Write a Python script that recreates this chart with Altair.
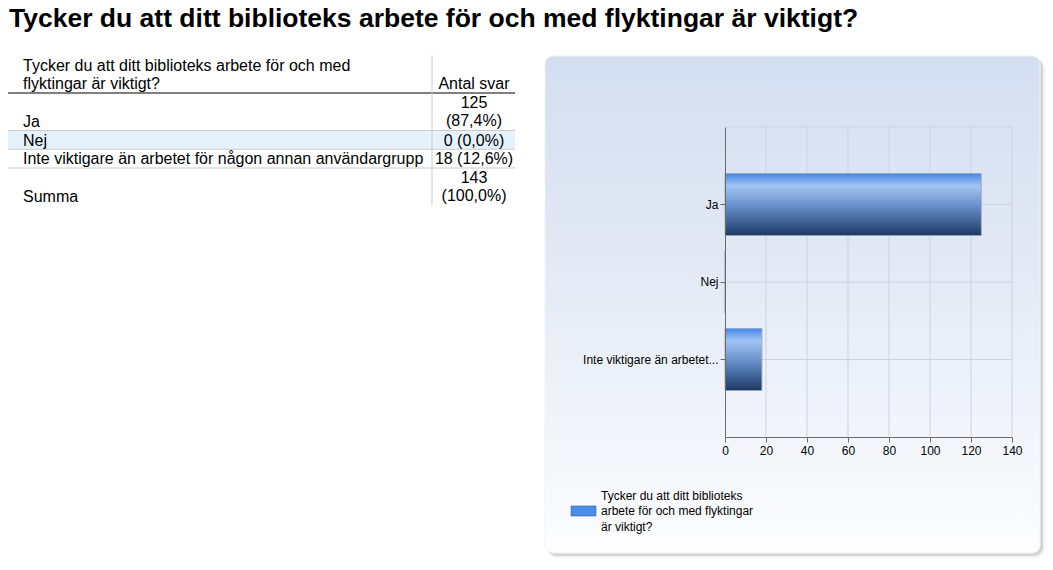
import altair as alt
import pandas as pd

# ---------------- data ----------------
title_text = "Tycker du att ditt biblioteks arbete för och med flyktingar är viktigt?"
header_question = "Tycker du att ditt biblioteks arbete för och med\nflyktingar är viktigt?"
header_count = "Antal svar"
categories = ["Ja", "Nej", "Inte viktigare än arbetet för någon annan användargrupp"]
counts = [125, 0, 18]
percents = ["87,4%", "0,0%", "12,6%"]
total_name = "Summa"
total_count = 143
total_percent = "100,0%"
x_ticks = [0, 20, 40, 60, 80, 100, 120, 140]
legend_label = "Tycker du att ditt biblioteks\narbete för och med flyktingar\när viktigt?"

FONT = "Liberation Sans"
T = 40  # vertical shift of the content below the page title

# ---------------- table frame ----------------
rows = []
pos = 2  # header occupies two text lines
for name, c, p in zip(categories + [total_name], counts + [total_count], percents + [total_percent]):
    wraps = len(str(c)) >= 3
    txt = f"{c}\n({p})" if wraps else f"{c} ({p})"
    n = 2 if wraps else 1
    rows.append(dict(label=name, value=txt, start=pos, end=pos + n, nlines=n))
    pos += n
table = pd.DataFrame(rows)
table["kind"] = ["row"] * len(categories) + ["total"]
table["shade"] = [(i % 2 == 1) and (k == "row") for i, k in enumerate(table["kind"])]
n_lines = pos
header = pd.DataFrame([dict(label=header_question, value=header_count, start=0, end=2, nlines=2,
                            top=0, bottom=n_lines)])
table["label_line"] = table["end"] - 1

yq = alt.Scale(domain=[0, n_lines], range=[T + 7.5, T + 157.5], nice=False, zero=False)

def ty(field):
    return alt.Y(field, type="quantitative", scale=yq, axis=None)

base = alt.Chart(table)
shade = base.transform_filter("datum.shade").mark_rect(color="#e6f2fb").encode(
    x=alt.value(0), x2=alt.value(507), y=ty("start"), y2="end:Q")
row_lines = base.transform_filter("datum.kind == 'row'").mark_rule(color="#cacaca").encode(
    x=alt.value(0), x2=alt.value(507), y=ty("end"))
head_rule = alt.Chart(header).mark_rule(color="black").encode(
    x=alt.value(0), x2=alt.value(507), y=ty("end"))
vsep = alt.Chart(header).mark_rule(color="#cacaca").encode(
    x=alt.value(424), y=ty("top"), y2="bottom:Q")
txt_kw = dict(baseline="top", lineBreak="\n", lineHeight=18, fontSize=16, font=FONT, color="black", dy=2)
label_txt = base.mark_text(align="left", **txt_kw).encode(x=alt.value(15), y=ty("label_line"), text="label:N")
value_txt = base.mark_text(align="center", **txt_kw).encode(x=alt.value(466), y=ty("start"), text="value:N")
hlabel_txt = alt.Chart(header).mark_text(align="left", **txt_kw).encode(x=alt.value(15), y=ty("start"), text="label:N")
hvalue_txt = alt.Chart(header).mark_text(align="center", **txt_kw).encode(
    x=alt.value(466), y=ty("start"), text="value:N", yOffset=alt.value(18))

table_layer = alt.layer(shade, row_lines, head_rule, vsep, label_txt, value_txt, hlabel_txt, hvalue_txt)

# ---------------- panel, title, legend ----------------
one = pd.DataFrame({"k": [0]})
title_mark = alt.Chart(pd.DataFrame({"t": [title_text]})).mark_text(
    align="left", baseline="alphabetic", fontSize=26.5, fontWeight="bold", font=FONT, color="black"
).encode(x=alt.value(1), y=alt.value(T - 21), text="t:N")
panel_grad = alt.LinearGradient(
    gradient="linear", x1=0, x2=0, y1=0, y2=1,
    stops=[alt.GradientStop(color="#d3def0", offset=0),
           alt.GradientStop(color="#e6ecf6", offset=0.5),
           alt.GradientStop(color="#fdfdfe", offset=1)])
shadow2 = alt.Chart(one).mark_rect(color="#000000", opacity=0.05, cornerRadius=10).encode(
    x=alt.value(540), x2=alt.value(1037), y=alt.value(T + 11), y2=alt.value(T + 510))
shadow1 = alt.Chart(one).mark_rect(color="#000000", opacity=0.12, cornerRadius=9).encode(
    x=alt.value(539), x2=alt.value(1035), y=alt.value(T + 10), y2=alt.value(T + 508))
panel = alt.Chart(one).mark_rect(color=panel_grad, cornerRadius=8, stroke="#eef2f8", strokeWidth=1).encode(
    x=alt.value(537), x2=alt.value(1032), y=alt.value(T + 8), y2=alt.value(T + 505))
swatch = alt.Chart(one).mark_rect(color="#4a8eea", stroke="#3567a8", strokeWidth=0.6).encode(
    x=alt.value(563), x2=alt.value(588), y=alt.value(T + 458), y2=alt.value(T + 468))
legend_txt = alt.Chart(pd.DataFrame({"t": [legend_label]})).mark_text(
    align="left", baseline="middle", lineBreak="\n", lineHeight=15.5, fontSize=12, font=FONT, color="black"
).encode(x=alt.value(593), y=alt.value(T + 447.5), text="t:N")
panel_layer = alt.layer(title_mark, shadow2, shadow1, panel, swatch, legend_txt)

# ---------------- bar chart ----------------
bars_df = pd.DataFrame({"category": categories, "count": counts})
xs = alt.Scale(domain=[0, 140], range=[717, 1004], nice=False, zero=True)
ys = alt.Scale(domain=categories, range=[T + 79, T + 389], paddingInner=0.2, paddingOuter=0.6)
xaxis = alt.Axis(orient="bottom", values=x_ticks, offset=-121, tickSize=5, labelPadding=3,
                 labelFontSize=12, labelFont=FONT, labelColor="black", labelFlush=False,
                 domainColor="#6b6b6b", tickColor="#6b6b6b", grid=False, title=None, zindex=1)
yaxis = alt.Axis(orient="left", offset=-717, tickSize=5, labelPadding=2,
                 labelFontSize=12, labelFont=FONT, labelColor="black",
                 labelExpr="length(datum.label) > 28 ? substring(datum.label, 0, 25) + '...' : datum.label",
                 domainColor="#6b6b6b", tickColor="#6b6b6b", grid=False, title=None, zindex=1)

grid_col = "#cdd3dd"
vgrid = alt.Chart(pd.DataFrame({"v": x_ticks[1:]})).mark_rule(color=grid_col).encode(
    x=alt.X("v:Q", scale=xs, axis=xaxis), y=alt.value(T + 79), y2=alt.value(T + 389))
hgrid = alt.Chart(bars_df).mark_rule(color=grid_col).encode(
    y=alt.Y("category:N", scale=ys, axis=yaxis, sort=categories, bandPosition=0.5),
    x=alt.value(717), x2=alt.value(1004))
top_border = alt.Chart(one).mark_rule(color=grid_col).encode(
    x=alt.value(717), x2=alt.value(1004), y=alt.value(T + 79))

bar_grad = alt.LinearGradient(
    gradient="linear", x1=0, x2=0, y1=0, y2=1,
    stops=[alt.GradientStop(color="#4586e8", offset=0),
           alt.GradientStop(color="#a2c5f4", offset=0.2),
           alt.GradientStop(color="#6d93cc", offset=0.5),
           alt.GradientStop(color="#42679c", offset=0.75),
           alt.GradientStop(color="#1d3763", offset=1)])
bars = alt.Chart(bars_df).mark_bar(color=bar_grad, stroke="#95a4ba", strokeWidth=0.8).encode(
    y=alt.Y("category:N", scale=ys, axis=yaxis, sort=categories),
    x=alt.X("count:Q", scale=xs, axis=xaxis))

bar_layer = alt.layer(vgrid, hgrid, top_border, bars)

chart = alt.layer(panel_layer, table_layer, bar_layer).resolve_scale(
    x="independent", y="independent"
).properties(
    width=1037, height=550,
    autosize=alt.AutoSizeParams(type="none"),
    padding={"left": 0, "top": 0, "right": 0, "bottom": 0},
).configure(font=FONT).configure_view(stroke=None)

chart.save("out.html", embed_options={"renderer": "svg", "actions": False})
